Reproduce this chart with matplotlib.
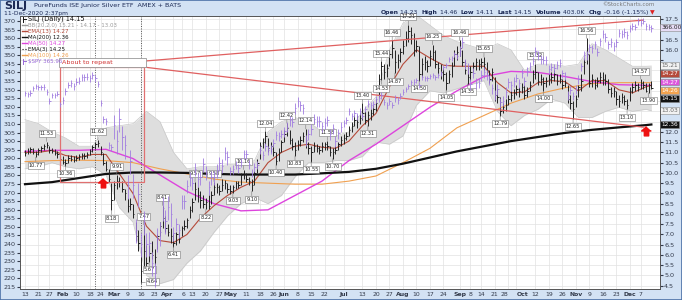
import numpy as np
import pandas as pd
import matplotlib
matplotlib.use("Agg")
import matplotlib.pyplot as plt
from matplotlib.patches import Rectangle
from matplotlib.lines import Line2D

# trading days on the chart (market holidays left out)
holidays = ["2020-01-20", "2020-02-17", "2020-04-10", "2020-05-25",
            "2020-07-03", "2020-09-07", "2020-11-26"]
dates = pd.bdate_range("2020-01-13", "2020-12-11", freq="C", holidays=holidays)

# SILJ daily bars, month by month (Jan ... Dec)
silj_close = [
    10.95, 11.05, 11.15, 11.00, 10.90, 11.10, 11.20, 11.30, 11.35, 11.10, 11.05, 10.95, 10.90, 10.70,
    10.55, 10.50, 10.75, 10.70, 10.65, 10.75, 10.80, 10.85, 10.80, 10.90, 11.05, 11.25, 11.40, 11.45, 11.00, 10.50, 10.20, 9.70, 8.70,
    9.40, 9.60, 9.55, 9.20, 9.00, 8.40, 8.50, 8.00, 6.90, 6.60, 5.20, 6.20, 5.60, 6.10, 6.00, 5.90, 6.90, 7.40, 7.80, 7.30, 7.10, 6.90,
    6.60, 7.00, 6.80, 7.30, 7.40, 7.70, 8.20, 8.60, 9.20, 8.90, 8.70, 8.50, 8.60, 8.40, 8.90, 9.30, 9.30, 9.10, 9.40, 9.50, 9.20,
    9.10, 9.30, 9.50, 9.40, 9.90, 9.95, 9.70, 9.60, 9.40, 10.00, 10.50, 11.30, 11.50, 11.80, 11.20, 11.30, 11.00, 10.60, 11.00, 11.50,
    11.90, 12.20, 11.60, 11.30, 11.10, 11.40, 11.60, 11.80, 11.40, 11.20, 11.00, 11.30, 11.20, 11.10, 11.30, 11.40, 11.30, 11.00, 11.00, 11.10, 11.40, 11.60,
    11.70, 11.80, 12.10, 12.30, 12.60, 12.50, 12.70, 12.90, 12.60, 12.80, 12.90, 13.10, 13.40, 14.60, 15.20, 14.90, 15.10, 15.80, 16.10, 15.40, 15.50, 15.90,
    16.20, 16.60, 16.90, 16.70, 16.00, 16.20, 14.80, 15.30, 15.40, 15.20, 15.70, 15.90, 15.30, 15.10, 14.90, 14.80, 14.40, 14.80, 15.20, 15.80, 15.90,
    16.10, 15.40, 15.00, 14.70, 14.90, 15.20, 15.40, 15.30, 15.40, 15.30, 15.00, 14.60, 14.90, 13.80, 13.70, 13.00, 13.20, 13.30, 13.60, 13.80, 13.90,
    14.10, 14.00, 14.20, 13.80, 14.00, 14.30, 14.80, 14.90, 14.50, 14.60, 14.40, 14.50, 14.60, 14.70, 14.80, 14.50, 14.60, 14.30, 14.40, 13.60, 13.40, 13.10,
    13.60, 14.20, 14.50, 15.40, 15.80, 14.40, 14.60, 14.30, 14.50, 14.70, 14.60, 14.50, 14.10, 13.90, 14.00, 13.60, 13.50, 13.70, 13.50, 13.30,
    14.00, 14.20, 14.30, 14.20, 14.40, 14.30, 14.00, 14.30, 14.15,
]
silj_high = [
    11.10, 11.20, 11.25, 11.20, 11.05, 11.20, 11.30, 11.40, 11.53, 11.30, 11.20, 11.15, 11.05, 10.95,
    10.80, 10.70, 10.85, 10.85, 10.80, 10.85, 10.90, 10.95, 10.95, 11.00, 11.15, 11.35, 11.50, 11.62, 11.30, 10.95, 10.60, 10.20, 9.50,
    9.60, 9.91, 9.80, 9.60, 9.20, 8.80, 8.80, 8.50, 7.60, 7.20, 6.40, 7.47, 6.50, 6.50, 6.70, 6.30, 7.00, 7.60, 8.41, 7.90, 7.50, 7.30,
    7.00, 7.10, 7.10, 7.40, 7.70, 7.80, 8.40, 8.80, 9.57, 9.30, 9.10, 8.90, 8.80, 8.90, 9.10, 9.58, 9.50, 9.40, 9.69, 9.65, 9.50,
    9.40, 9.40, 9.60, 9.60, 10.00, 10.16, 10.00, 9.80, 9.70, 10.10, 10.70, 11.50, 11.70, 12.04, 11.70, 11.50, 11.40, 11.00, 11.20, 11.60,
    12.10, 12.42, 12.10, 11.70, 11.50, 11.60, 11.80, 12.00, 12.14, 11.50, 11.30, 11.50, 11.40, 11.30, 11.50, 11.50, 11.58, 11.30, 11.20, 11.30, 11.50, 11.80,
    11.90, 12.00, 12.30, 12.50, 12.80, 12.80, 12.90, 13.40, 13.00, 13.00, 13.10, 13.30, 13.60, 14.80, 15.44, 15.30, 15.30, 16.00, 16.46, 16.00, 15.80, 16.10,
    16.50, 16.90, 17.21, 17.10, 16.80, 16.50, 16.20, 15.60, 15.70, 15.50, 16.00, 16.25, 16.00, 15.40, 15.30, 15.10, 14.90, 15.00, 15.40, 16.00, 16.20,
    16.46, 16.00, 15.50, 15.20, 15.20, 15.40, 15.60, 15.55, 15.60, 15.65, 15.40, 15.00, 15.10, 14.70, 14.10, 13.70, 13.40, 13.60, 13.80, 14.00, 14.10,
    14.30, 14.20, 14.40, 14.30, 14.20, 14.50, 15.00, 15.32, 14.90, 14.80, 14.70, 14.70, 14.80, 14.90, 15.00, 14.80, 14.80, 14.60, 14.60, 14.30, 13.80, 13.50,
    13.80, 14.30, 14.80, 15.60, 16.56, 15.80, 14.80, 14.60, 14.70, 14.90, 14.90, 14.80, 14.60, 14.20, 14.20, 14.00, 13.80, 13.90, 13.80, 13.60,
    14.20, 14.40, 14.50, 14.40, 14.57, 14.50, 14.40, 14.40, 14.46,
]
silj_low = [
    10.80, 10.90, 10.95, 10.90, 10.77, 10.85, 11.00, 11.10, 11.20, 10.95, 10.95, 10.85, 10.75, 10.60,
    10.45, 10.36, 10.50, 10.60, 10.55, 10.60, 10.65, 10.70, 10.70, 10.75, 10.85, 11.00, 11.15, 11.25, 10.85, 10.40, 10.10, 9.55, 8.18,
    8.70, 9.20, 9.30, 9.05, 8.70, 8.10, 8.20, 7.80, 6.70, 6.20, 4.64, 5.30, 5.40, 5.67, 5.80, 5.50, 6.30, 6.90, 7.30, 7.10, 6.90, 6.60,
    6.41, 6.50, 6.60, 6.90, 7.20, 7.30, 7.80, 8.10, 8.70, 8.60, 8.30, 8.30, 8.22, 8.25, 8.50, 8.90, 9.00, 8.90, 9.10, 9.20, 9.00,
    8.95, 9.03, 9.20, 9.25, 9.40, 9.70, 9.55, 9.40, 9.10, 9.40, 10.00, 10.70, 11.20, 11.40, 11.00, 11.00, 10.80, 10.40, 10.60, 11.00,
    11.50, 11.80, 11.40, 11.10, 10.83, 11.10, 11.30, 11.50, 11.20, 10.90, 10.55, 11.00, 11.00, 10.90, 11.00, 11.10, 11.10, 10.80, 10.70, 10.90, 11.10, 11.30,
    11.40, 11.60, 11.80, 12.00, 12.30, 12.20, 12.40, 12.60, 12.40, 12.31, 12.60, 12.80, 13.00, 13.70, 14.53, 14.60, 14.70, 15.20, 15.60, 14.87, 15.10, 15.40,
    15.80, 16.20, 16.40, 16.30, 15.70, 15.90, 14.50, 14.70, 15.00, 14.90, 15.20, 15.50, 15.10, 14.80, 14.60, 14.50, 14.05, 14.40, 14.70, 15.20, 15.50,
    15.70, 15.20, 14.80, 14.35, 14.50, 14.90, 15.00, 15.00, 15.10, 15.00, 14.80, 14.40, 14.50, 13.50, 13.40, 12.79, 12.90, 13.00, 13.30, 13.50, 13.60,
    13.80, 13.70, 13.90, 13.60, 13.70, 14.00, 14.40, 14.60, 14.30, 14.30, 14.00, 14.20, 14.30, 14.40, 14.50, 14.30, 14.40, 14.10, 14.20, 13.40, 13.10, 12.65,
    13.20, 13.70, 14.00, 14.80, 15.30, 14.20, 14.20, 14.10, 14.20, 14.40, 14.30, 14.30, 13.90, 13.70, 13.70, 13.30, 13.20, 13.40, 13.30, 13.10,
    13.50, 13.90, 14.00, 14.00, 14.10, 14.10, 13.95, 13.90, 14.11,
]

# $SPY closes (left scale) and typical daily bar height for each month
spy_close = [
    327.9, 327.5, 328.2, 331.0, 332.0, 331.3, 331.3, 331.7, 328.8, 323.5, 326.9, 326.6, 327.7, 321.7,
    324.1, 329.1, 332.9, 333.9, 332.2, 334.7, 335.3, 337.4, 337.1, 337.6, 336.7, 338.3, 336.9, 333.5, 322.4, 312.6, 311.5, 297.5, 296.3,
    309.1, 300.2, 312.9, 302.5, 297.5, 274.2, 288.4, 274.4, 248.1, 269.3, 239.9, 252.8, 240.0, 240.5, 228.8, 222.9, 243.2, 246.8, 261.2, 253.4, 261.7, 257.8,
    246.2, 251.8, 248.2, 264.9, 265.1, 274.0, 278.2, 275.7, 283.8, 277.8, 279.1, 286.6, 281.6, 273.0, 279.1, 279.1, 283.0, 287.1, 285.7, 293.2, 290.5,
    282.8, 283.6, 286.2, 284.3, 287.7, 292.4, 292.5, 286.7, 281.6, 285.0, 286.3, 295.0, 292.0, 296.9, 294.9, 295.4, 299.1, 303.5, 303.0, 304.3,
    305.6, 308.4, 312.2, 311.4, 319.3, 323.2, 320.8, 319.0, 300.6, 304.2, 307.1, 313.0, 311.7, 311.8, 308.6, 310.6, 312.1, 304.1, 307.4, 300.1, 304.5, 308.4,
    310.5, 312.2, 317.6, 314.4, 316.2, 314.4, 317.6, 314.8, 318.9, 321.9, 320.8, 321.7, 324.3, 325.0, 326.9, 323.0, 320.9, 323.2, 321.2, 325.1, 324.0, 326.5,
    328.8, 330.1, 332.1, 334.3, 334.6, 335.6, 332.8, 337.4, 336.8, 336.8, 337.9, 338.6, 337.2, 338.3, 339.5, 343.0, 344.1, 347.6, 348.3, 350.6, 349.3,
    352.6, 357.7, 345.4, 342.6, 333.2, 339.8, 333.9, 334.1, 338.5, 340.2, 338.8, 335.8, 330.7, 327.0, 330.3, 322.6, 323.5, 328.7, 334.2, 332.4, 334.9,
    337.0, 333.8, 339.8, 334.9, 340.8, 343.8, 346.9, 352.4, 350.1, 347.9, 347.5, 347.3, 342.0, 343.4, 342.7, 344.6, 345.8, 339.4, 338.2, 326.7, 330.0, 326.5,
    330.2, 336.0, 343.5, 350.2, 350.2, 354.6, 354.0, 356.3, 352.2, 358.1, 362.6, 360.6, 356.3, 357.8, 355.3, 357.5, 363.2, 362.7, 363.7, 362.1,
    366.0, 366.8, 366.7, 369.9, 369.1, 370.2, 366.9, 366.7, 366.0,
]
spy_month_range = [3, 4, 14, 8, 5, 6, 4, 3, 6, 5, 5, 4]

# overlays, sampled every 10 trading days
ma_days = [0, 10, 20, 30, 40, 50, 60, 70, 80, 90, 100, 110, 120,
           130, 140, 150, 160, 170, 180, 190, 200, 210, 220, 230, 232]
ma200 = [9.45, 9.55, 9.75, 9.95, 10.02, 10.02, 10.0, 9.95, 9.92, 9.92, 9.92, 9.98, 10.05,
         10.2, 10.45, 10.75, 11.05, 11.3, 11.55, 11.75, 11.95, 12.1, 12.22, 12.33, 12.36]
ma100 = [10.55, 10.6, 10.62, 10.6, 10.5, 10.2, 9.95, 9.7, 9.55, 9.5, 9.45, 9.45, 9.6,
         9.85, 10.5, 11.2, 12.2, 12.8, 13.4, 13.85, 14.15, 14.35, 14.4, 14.4, 14.4]
ma50 = [11.05, 11.1, 11.1, 11.15, 10.7, 9.9, 9.1, 8.5, 8.15, 8.2, 8.9, 9.6, 10.6,
        11.4, 12.3, 13.2, 14.0, 14.7, 14.95, 14.9, 14.7, 14.45, 14.3, 14.27, 14.27]

# overlays, sampled every 5 trading days
bb_days = [0, 5, 10, 15, 20, 25, 30, 35, 40, 45, 50, 55, 60, 65, 70, 75, 80, 85, 90, 95,
           100, 105, 110, 115, 120, 125, 130, 135, 140, 145, 150, 155, 160, 165, 170, 175,
           180, 185, 190, 195, 200, 205, 210, 215, 220, 225, 230, 232]
bb_upper = [12.6, 12.4, 12.0, 11.7, 11.3, 11.3, 12.2, 12.3, 12.4, 13.0, 12.5, 11.0, 10.2, 10.3,
            10.3, 10.4, 10.4, 10.6, 12.0, 12.5, 12.7, 12.5, 12.0, 11.8, 12.0, 13.0, 13.7, 16.0,
            17.3, 17.7, 17.2, 16.7, 16.4, 16.2, 16.0, 16.3, 16.0, 15.0, 15.3, 15.3, 15.2, 15.3,
            16.3, 16.0, 15.6, 15.2, 15.2, 15.21]
bb_lower = [10.2, 10.3, 10.5, 10.3, 10.2, 10.3, 9.9, 8.3, 7.6, 5.0, 4.6, 4.8, 5.6, 6.2,
            7.1, 7.9, 8.5, 8.8, 8.5, 8.9, 9.8, 10.5, 10.5, 10.6, 10.6, 10.8, 11.5, 11.4,
            11.8, 13.3, 14.0, 13.9, 14.1, 14.3, 14.5, 13.0, 12.3, 12.8, 13.1, 13.6, 13.4, 12.7,
            12.7, 13.0, 13.2, 13.0, 13.1, 13.03]
ema13 = [11.0, 11.0, 11.1, 10.85, 10.75, 10.9, 10.9, 9.95, 9.0, 7.4, 6.7, 6.6, 7.0, 7.8,
         8.4, 8.9, 9.3, 9.6, 10.5, 11.0, 11.3, 11.4, 11.25, 11.2, 11.55, 12.3, 12.9, 14.2,
         15.3, 16.0, 15.6, 15.25, 15.2, 15.2, 15.2, 14.4, 13.9, 13.95, 14.4, 14.5, 14.45, 14.0,
         14.5, 14.5, 14.05, 13.9, 14.2, 14.27]

# swing labels: date and whether the high or the low is marked
label_dates = ["2020-01-24", "2020-01-17", "2020-02-04", "2020-02-21", "2020-02-28", "2020-03-03",
               "2020-03-16", "2020-03-17", "2020-03-19", "2020-03-26", "2020-04-01", "2020-04-14",
               "2020-04-20", "2020-04-23", "2020-05-04", "2020-05-08", "2020-05-13",
               "2020-05-20", "2020-05-27", "2020-06-02", "2020-06-05", "2020-06-11", "2020-06-15",
               "2020-06-23", "2020-06-25", "2020-07-13", "2020-07-15", "2020-07-22", "2020-07-22",
               "2020-07-28", "2020-07-29", "2020-08-05", "2020-08-11", "2020-08-18", "2020-08-25",
               "2020-09-01", "2020-09-04", "2020-09-15", "2020-09-23", "2020-10-12", "2020-10-15",
               "2020-10-30", "2020-11-06", "2020-11-30", "2020-12-07", "2020-12-10"]
label_kinds = ["hi", "lo", "lo", "hi", "lo", "hi",
               "lo", "hi", "lo", "hi", "lo", "hi",
               "lo", "hi", "lo", "hi", "lo",
               "hi", "lo", "hi", "lo", "hi", "lo",
               "hi", "lo", "hi", "lo", "hi", "lo",
               "hi", "lo", "hi", "lo", "hi", "lo",
               "hi", "lo", "hi", "lo", "hi", "lo",
               "lo", "hi", "lo", "hi", "lo"]

# annotations drawn by the chartist
rect_dates = ["2020-01-31", "2020-03-17"]
rect_prices = [9.55, 15.16]
trend_dates = ["2020-03-17", "2020-12-08"]
trend_upper = [15.45, 17.45]
trend_lower = [15.16, 12.23]
arrow_dates = ["2020-02-25", "2020-12-09"]
arrow_prices = [9.5, 12.04]
dotted_dates = ["2020-02-20", "2020-03-16"]

tick_dates = ["2020-01-13", "2020-01-21", "2020-01-27", "2020-02-03", "2020-02-10", "2020-02-18",
              "2020-02-24", "2020-03-02", "2020-03-09", "2020-03-16", "2020-03-23", "2020-04-01",
              "2020-04-06", "2020-04-13", "2020-04-20", "2020-04-27", "2020-05-01", "2020-05-11",
              "2020-05-18", "2020-05-26", "2020-06-01", "2020-06-08", "2020-06-15", "2020-06-22",
              "2020-07-01", "2020-07-13", "2020-07-20", "2020-07-27", "2020-08-03", "2020-08-10",
              "2020-08-17", "2020-08-24", "2020-09-01", "2020-09-08", "2020-09-14", "2020-09-21",
              "2020-09-28", "2020-10-01", "2020-10-12", "2020-10-19", "2020-10-26", "2020-11-02",
              "2020-11-09", "2020-11-16", "2020-11-23", "2020-12-01", "2020-12-07"]
tick_labels = ["13", "21", "27", "Feb", "10", "18", "24", "Mar", "9", "16", "23", "Apr",
               "6", "13", "20", "27", "May", "11", "18", "26", "Jun", "8", "15", "22",
               "Jul", "13", "20", "27", "Aug", "10", "17", "24", "Sep", "8", "14", "21",
               "28", "Oct", "12", "19", "26", "Nov", "9", "16", "23", "Dec", "7"]
months = {"Jan", "Feb", "Mar", "Apr", "May", "Jun", "Jul", "Aug", "Sep", "Oct", "Nov", "Dec"}

# right-edge value tags (text, value, face, text colour)
tags = [("15.21", 15.21, "#f2f2f2", "#666666"),
        ("14.27", 14.27, "#b54a3a", "white"),
        ("14.27", 14.27, "#dd55dd", "white"),
        ("14.26", 14.26, "#f3a34f", "white"),
        ("14.15", 14.15, "#111111", "white"),
        ("13.03", 13.03, "#f2f2f2", "#666666"),
        ("12.36", 12.36, "#111111", "white")]

legend_rows = [("SILJ (Daily) 14.15", "#111111", "bar"),
               ("BB(20,2.0) 15.21 - 14.17 - 13.03", "#9a9a9a", "-"),
               ("EMA(13) 14.27", "#b54a3a", "-"),
               ("MA(200) 12.36", "#111111", "-"),
               ("MA(50) 14.27", "#dd44dd", "-"),
               ("EMA(3) 14.25", "#111111", ":"),
               ("MA(100) 14.26", "#f0a050", "-"),
               ("$SPY 365.96", "#9a6ad8", "bar")]

header_parts = [("Open", True), (" 14.23  ", False), ("High", True), (" 14.46  ", False),
                ("Low", True), (" 14.11  ", False), ("Last", True), (" 14.15  ", False),
                ("Volume", True), (" 403.0K  ", False), ("Chg", True), (" -0.16 (-1.15%) ", False),
                ("\u25BC", False)]

# ---------------------------------------------------------------------------
n = len(dates)
assert len(silj_close) == n and len(silj_high) == n and len(silj_low) == n and len(spy_close) == n
idx = np.arange(n)
silj_close = np.array(silj_close)
silj_high = np.array(silj_high)
silj_low = np.array(silj_low)
spy_close = np.array(spy_close)
spy_rng = np.array(spy_month_range)[dates.month - 1]


def day(s):
    return dates.get_loc(pd.Timestamp(s))


W, H = 682, 300
SILJ_LIM = (4.34, 17.65)
SPY_LIM = (213.8, 372.9)
fig = plt.figure(figsize=(W / 100, H / 100), dpi=100)
fig.patch.set_facecolor("#d3e2f4")

ax = fig.add_axes([20 / W, 11 / H, 640 / W, 273 / H])
ax.set_facecolor("white")
ax.set_xlim(-1.85, 235.2)
ax.set_ylim(*SILJ_LIM)
ax.set_axisbelow(True)
ax.grid(True, color="#e2e2e2", lw=0.5)

ax2 = ax.twinx()
ax2.set_ylim(*SPY_LIM)

# bollinger band + moving averages
ax.fill_between(bb_days, bb_lower, bb_upper, color="#dedede", lw=0, zorder=1)
ax.plot(bb_days, bb_upper, color="#c8c8c8", lw=0.5, zorder=1)
ax.plot(bb_days, bb_lower, color="#c8c8c8", lw=0.5, zorder=1)
ax.plot(ma_days, ma100, color="#f0a050", lw=0.8, zorder=2)
ax.plot(ma_days, ma50, color="#dd44dd", lw=1.0, zorder=2)
ax.plot(bb_days, ema13, color="#b54a3a", lw=0.8, zorder=2)
ax.plot(ma_days, ma200, color="#111111", lw=1.6, zorder=2)

# price bars
ax.vlines(idx, silj_low, silj_high, color="#222222", lw=0.7, zorder=3)
ax.hlines(silj_close, idx, idx + 0.5, color="#222222", lw=0.7, zorder=3)

# dotted event lines
for d in dotted_dates:
    ax.axvline(day(d), color="#555555", ls=(0, (1, 1.5)), lw=0.7, zorder=2)

# the chartist's box and trend lines
r0, r1 = day(rect_dates[0]), day(rect_dates[1])
ax.add_patch(Rectangle((r0, rect_prices[0]), r1 - r0, rect_prices[1] - rect_prices[0],
                       fill=False, ec="#e07070", lw=0.9, zorder=4))
ax.add_patch(Rectangle((r0 - 0.5, rect_prices[1]), r1 - r0 + 1.5, 0.44,
                       fc="white", ec="#999999", lw=0.6, zorder=6))
ax.text(r0 + 0.8, rect_prices[1] + 0.22, "About to repeat", color="#d03030",
        fontsize=4.6, va="center", ha="left", zorder=7)
t0, t1 = day(trend_dates[0]), day(trend_dates[1])
ax.plot([t0, t1], trend_upper, color="#e06060", lw=0.9, zorder=4)
ax.plot([t0, t1], trend_lower, color="#e06060", lw=0.9, zorder=4)

arrow_marker = [(0, 1), (-1, 0.1), (-0.45, 0.1), (-0.45, -0.9), (0.45, -0.9), (0.45, 0.1), (1, 0.1)]
ax.plot([day(d) for d in arrow_dates], arrow_prices, ls="none", marker=arrow_marker,
        ms=7, color="#ee1111", mec="#ee1111", zorder=6)

# swing value labels (a low too close to the floor gets its tag beside the bar)
for d, kind in zip(label_dates, label_kinds):
    i = day(d)
    if kind == "hi":
        v, off, va, ha = silj_high[i], (0, 4), "bottom", "center"
    elif silj_low[i] < 5.0:
        v, off, va, ha = silj_low[i], (4, 1), "center", "left"
    else:
        v, off, va, ha = silj_low[i], (0, -4), "top", "center"
    ax.annotate(f"{v:.2f}", xy=(i, v), xytext=off, textcoords="offset points",
                ha=ha, va=va, fontsize=3.6, color="#222222", zorder=6,
                bbox=dict(boxstyle="square,pad=0.2", fc="white", ec="#777777", lw=0.4),
                arrowprops=dict(arrowstyle="-", color="#777777", lw=0.4, shrinkA=0, shrinkB=0))

# SPY bars on the left scale
ax2.vlines(idx, spy_close - 0.55 * spy_rng, spy_close + 0.45 * spy_rng,
           color="#a07ce0", lw=0.6, zorder=3)
ax2.hlines(spy_close, idx, idx + 0.5, color="#a07ce0", lw=0.6, zorder=3)

# value tags on the right edge, pushed apart so they do not overlap
pos = [t[1] for t in tags]
gap = 0.40
for _ in range(80):
    for k in range(len(pos) - 1):
        if pos[k] - pos[k + 1] < gap:
            mid = (pos[k] + pos[k + 1]) / 2
            pos[k], pos[k + 1] = mid + gap / 2, mid - gap / 2
for (txt, v, fc, tc), p in zip(tags, pos):
    ax.text(1.002, p, txt, transform=ax.get_yaxis_transform(), fontsize=4.2, color=tc,
            va="center", ha="left", clip_on=False, zorder=8,
            bbox=dict(boxstyle="square,pad=0.15", fc=fc, ec="#888888", lw=0.4))
ax2.text(1.002, spy_close[-1], f"{spy_close[-1]:.2f}", transform=ax2.get_yaxis_transform(),
         fontsize=4.2, color="#222222", va="center", ha="left", clip_on=False, zorder=8,
         bbox=dict(boxstyle="square,pad=0.15", fc="#e6dcf5", ec="#888888", lw=0.4))

# the SPY tag expressed on the SILJ scale, to know which tick labels it covers
spy_tag = SILJ_LIM[0] + (spy_close[-1] - SPY_LIM[0]) / (SPY_LIM[1] - SPY_LIM[0]) * (SILJ_LIM[1] - SILJ_LIM[0])
covered = pos + [spy_tag]

# axes cosmetics
right_ticks = np.arange(4.5, 17.51, 0.5)
ax.yaxis.tick_right()
ax.set_yticks(right_ticks)
ax.set_yticklabels(["" if min(abs(t - c) for c in covered) < 0.3 else f"{t:.1f}" for t in right_ticks])
ax.tick_params(axis="y", labelsize=4.6, length=2, pad=1, colors="#333a4a")
ax2.yaxis.tick_left()
ax2.set_yticks(np.arange(215, 371, 5))
ax2.tick_params(axis="y", labelsize=4.6, length=2, pad=1, colors="#333a4a")
ax.set_xticks([day(d) for d in tick_dates])
ax.set_xticklabels(tick_labels)
ax.tick_params(axis="x", labelsize=4.4, length=0, pad=2, colors="#333a4a")
xlabs = ax.get_xticklabels()
for k, lab in enumerate(xlabs):
    if lab.get_text() in months:
        lab.set_fontweight("bold")
    # labels on ticks only a few days apart sit flush against each other
    if k + 1 < len(tick_dates) and day(tick_dates[k + 1]) - day(tick_dates[k]) <= 3:
        lab.set_horizontalalignment("right")
        xlabs[k + 1].set_horizontalalignment("left")
for a in (ax, ax2):
    for s in a.spines.values():
        s.set_color("#555555")
        s.set_linewidth(0.6)

# legend block, top left inside the plot
for k, (txt, col, style) in enumerate(legend_rows):
    y = 1 - (19 + 6 * k) / H
    x0 = 22 / W
    if style == "bar":
        fig.lines.append(Line2D([x0 + 1.5 / W, x0 + 1.5 / W], [y - 2.5 / H, y + 2.5 / H],
                                color=col, lw=0.7, transform=fig.transFigure))
        fig.lines.append(Line2D([x0 + 1.5 / W, x0 + 3.5 / W], [y, y],
                                color=col, lw=0.7, transform=fig.transFigure))
    else:
        fig.lines.append(Line2D([x0, x0 + 5 / W], [y, y], color=col, lw=1.0 if style == "-" else 0.8,
                                ls="-" if style == "-" else ":", transform=fig.transFigure))
    fig.text(x0 + 6 / W, y, txt, color=col, fontsize=4.8 if k == 0 else 4.0, va="center", ha="left")

# header
fig.text(4 / W, 1 - 6 / H, "SILJ", fontsize=8, fontweight="bold", color="#1c2a55", va="center")
fig.text(34 / W, 1 - 6 / H, "PureFunds ISE Junior Silver ETF  AMEX + BATS", fontsize=4.6,
         color="#1c2a55", va="center")
fig.text(4 / W, 1 - 13 / H, "11-Dec-2020 2:37pm", fontsize=4.3, color="#1c2a55", va="center")
fig.text(655 / W, 1 - 4.5 / H, "\u00A9StockCharts.com", fontsize=4.0, color="#7a7a7a",
         va="center", ha="right")

renderer = fig.canvas.get_renderer()
x = 655 / W
for txt, bold in reversed(header_parts):
    col = "#dd2222" if txt == "\u25BC" else "#1c2a55"
    t = fig.text(x, 1 - 12.5 / H, txt, fontsize=4.4, fontweight="bold" if bold else "normal",
                 color=col, va="center", ha="right")
    x -= t.get_window_extent(renderer).width / W

fig.patches.append(Rectangle((0, 0), 1, 1, transform=fig.transFigure, fill=False,
                             ec="#4d72a8", lw=1.2))

fig.savefig("out.png", dpi=100, facecolor=fig.get_facecolor())
